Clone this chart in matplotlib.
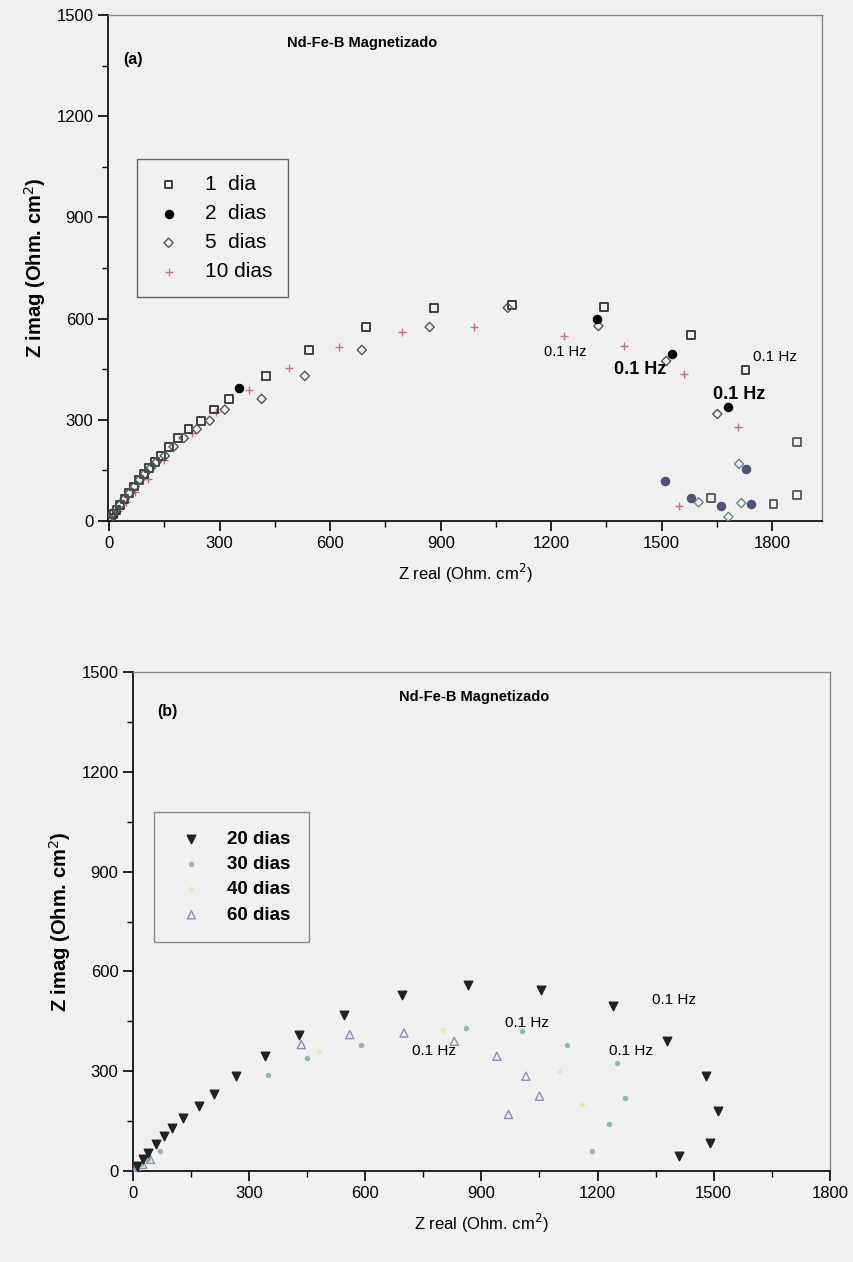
import matplotlib.pyplot as plt
import numpy as np

# ---- panel (a) data: Nyquist points, Z real / Z imag (Ohm.cm2)
dia1_x = [5, 12, 20, 30, 42, 54, 68, 81, 95, 109, 125, 141, 163, 187, 215, 250, 285, 326, 426, 543, 698, 882, 1094, 1344, 1580, 1727]
dia1_y = [8, 20, 33, 48, 65, 83, 102, 122, 140, 157, 175, 193, 220, 246, 272, 297, 330, 362, 430, 507, 575, 632, 640, 635, 551, 448]
dia1_tail_x = [1868, 1868, 1803, 1634]
dia1_tail_y = [234, 77, 50, 68]

dia2_x = [353, 1325, 1529, 1681]
dia2_y = [394, 599, 495, 338]
dia2_tail_x = [1510, 1580, 1661, 1729, 1743]
dia2_tail_y = [119, 68, 44, 154, 50]

dia5_x = [0, 2, 8, 18, 30, 42, 56, 69, 83, 97, 113, 129, 151, 175, 203, 238, 273, 314, 414, 531, 686, 870, 1082, 1328, 1512, 1651]
dia5_y = [0, 8, 20, 33, 48, 65, 83, 102, 122, 140, 157, 175, 193, 220, 246, 272, 297, 330, 362, 430, 507, 575, 632, 578, 474, 317]
dia5_tail_x = [1710, 1600, 1716, 1681]
dia5_tail_y = [169, 55, 53, 12]

dia10_x = [4, 12, 25, 45, 70, 105, 150, 225, 290, 380, 489, 624, 795, 991, 1235, 1398, 1561, 1708, 1548]
dia10_y = [3, 14, 30, 55, 85, 125, 180, 261, 323, 388, 454, 516, 560, 575, 549, 519, 436, 279, 44]

# ---- panel (b) data
d20_x = [10, 25, 40, 60, 80, 100, 130, 170, 210, 265, 340, 430, 545, 695, 865, 1055, 1240, 1380, 1480, 1510, 1490, 1410]
d20_y = [15, 35, 55, 80, 105, 130, 160, 195, 230, 285, 345, 410, 470, 530, 560, 545, 495, 390, 285, 180, 85, 45]
d30_x = [5, 20, 40, 70, 350, 450, 590, 860, 1005, 1120, 1250, 1270, 1230, 1185]
d30_y = [5, 20, 35, 60, 290, 340, 380, 430, 420, 380, 325, 220, 140, 60]
d40_x = [15, 35, 480, 800, 1100, 1160]
d40_y = [12, 30, 360, 425, 300, 200]
d60_x = [10, 25, 45, 435, 560, 700, 830, 940, 1015, 1050, 970]
d60_y = [10, 20, 35, 380, 410, 415, 390, 345, 285, 225, 170]

# "0.1 Hz" labels (x, y)
hz_a = [(1238, 501, 10.5, "normal"), (1442, 448, 13, "bold"), (1808, 486, 11, "normal"), (1710, 374, 13, "bold")]
hz_b = [(1397, 513), (1018, 444), (777, 362), (1287, 362)]

bg = "#f0f0f0"
narrow = ["Liberation Sans Narrow", "Liberation Sans", "DejaVu Sans"]
plt.rcParams["font.family"] = ["Liberation Sans", "DejaVu Sans"]

fig = plt.figure(figsize=(8.54, 12.62), dpi=100, facecolor=bg)
ax1 = fig.add_axes([0.1265, 0.5872, 0.836, 0.4009], facecolor=bg)
ax2 = fig.add_axes([0.1557, 0.0721, 0.816, 0.3954], facecolor=bg)

# panel (a)
ax1.scatter(dia1_x, dia1_y, marker="s", s=30, facecolors="none", edgecolors="#333333", linewidths=1.3, label="1  dia", zorder=3)
ax1.scatter(dia2_x, dia2_y, marker="o", s=34, color="black", label="2  dias", zorder=4)
ax1.scatter(dia5_x, dia5_y, marker="D", s=22, facecolors="none", edgecolors="#4a5a5a", linewidths=1.0, label="5  dias", zorder=3)
ax1.scatter(dia10_x, dia10_y, marker="+", s=40, color="#c87080", linewidths=1.0, label="10 dias", zorder=2)
ax1.scatter(dia1_tail_x, dia1_tail_y, marker="s", s=30, facecolors="none", edgecolors="#555555", linewidths=1.3, zorder=3)
ax1.scatter(dia2_tail_x, dia2_tail_y, marker="o", s=34, color="#50507a", zorder=4)
ax1.scatter(dia5_tail_x, dia5_tail_y, marker="D", s=22, facecolors="none", edgecolors="#6a8888", linewidths=1.0, zorder=3)

for x, y, fs, fw in hz_a:
    ax1.text(x, y, "0.1 Hz", fontsize=fs, fontweight=fw, ha="center", va="center")

ax1.set_xlim(-3, 1935)
ax1.set_ylim(0, 1500)
ax1.set_xticks([0, 300, 600, 900, 1200, 1500, 1800])
ax1.set_yticks([0, 300, 600, 900, 1200, 1500])
ax1.set_xlabel("Z real (Ohm. cm$^2$)", fontsize=12, labelpad=8)
ax1.set_ylabel("Z imag (Ohm. cm$^2$)", fontsize=14.5, fontweight="bold", labelpad=6)
ax1.text(0.356, 0.945, "Nd-Fe-B Magnetizado", transform=ax1.transAxes, fontsize=10.5, fontweight="bold", family=narrow, ha="center", va="center")
ax1.text(0.035, 0.912, "(a)", transform=ax1.transAxes, fontsize=11.5, fontweight="bold", family=narrow, ha="center", va="center")
ax1.legend(loc="upper left", bbox_to_anchor=(0.041, 0.715), borderaxespad=0, fontsize=15,
           labelspacing=0.49, borderpad=0.75, handlelength=1.5, handletextpad=1.0, fancybox=False, framealpha=1,
           facecolor=bg, edgecolor="#666666", scatterpoints=1)

# panel (b)
ax2.scatter(d20_x, d20_y, marker="v", s=38, color="#222222", label="20 dias", zorder=4)
ax2.scatter(d30_x, d30_y, marker="o", s=8, color="#88b8b8", label="30 dias", zorder=3)
ax2.scatter(d40_x, d40_y, marker="o", s=8, color="#ece6b0", label="40 dias", zorder=2)
ax2.scatter(d60_x, d60_y, marker="^", s=34, facecolors="none", edgecolors="#8890b8", linewidths=1.0, label="60 dias", zorder=3)

for x, y in hz_b:
    ax2.text(x, y, "0.1 Hz", fontsize=11, ha="center", va="center")

ax2.set_xlim(0, 1800)
ax2.set_ylim(0, 1500)
ax2.set_xticks([0, 300, 600, 900, 1200, 1500, 1800])
ax2.set_yticks([0, 300, 600, 900, 1200, 1500])
ax2.set_xlabel("Z real (Ohm. cm$^2$)", fontsize=12, labelpad=8)
ax2.set_ylabel("Z imag (Ohm. cm$^2$)", fontsize=14.5, fontweight="bold", labelpad=6)
ax2.text(0.49, 0.95, "Nd-Fe-B Magnetizado", transform=ax2.transAxes, fontsize=10.5, fontweight="bold", family=narrow, ha="center", va="center")
ax2.text(0.05, 0.92, "(b)", transform=ax2.transAxes, fontsize=11.5, fontweight="bold", family=narrow, ha="center", va="center")
ax2.legend(loc="upper left", bbox_to_anchor=(0.03, 0.72), borderaxespad=0,
           labelspacing=0.44, borderpad=1.0, handlelength=2.0, handletextpad=0.9, fancybox=False, framealpha=1,
           facecolor=bg, edgecolor="#888888", scatterpoints=1,
           prop={"family": narrow, "weight": "bold", "size": 13.5})

for ax in (ax1, ax2):
    ax.tick_params(direction="out", length=7, width=1.2, labelsize=12)
    ax.minorticks_on()
    ax.set_xticks([150, 450, 750, 1050, 1350, 1650], minor=True)
    ax.set_yticks([150, 450, 750, 1050, 1350], minor=True)
    ax.tick_params(which="minor", direction="out", length=4, width=1)
    for side in ("top", "right"):
        ax.spines[side].set_color("#888888")
        ax.spines[side].set_linewidth(1.0)
    for side in ("left", "bottom"):
        ax.spines[side].set_linewidth(1.2)

fig.savefig("out.png", dpi=100, facecolor=bg)
